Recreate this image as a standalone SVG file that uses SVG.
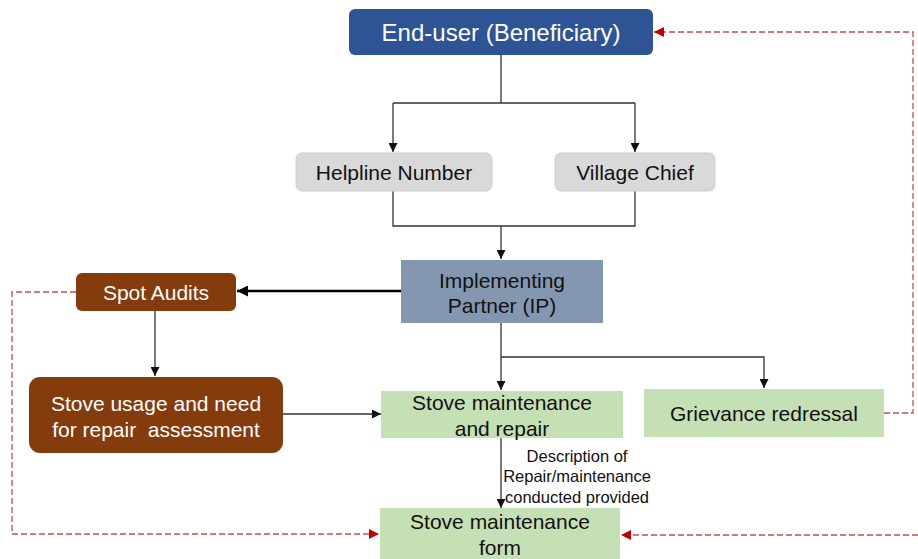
<svg xmlns="http://www.w3.org/2000/svg" width="918" height="559" viewBox="0 0 918 559">
<defs>
<marker id="ah" viewBox="0 0 10 10" refX="10" refY="5" markerWidth="9" markerHeight="9" markerUnits="userSpaceOnUse" orient="auto"><path d="M0,0 L10,5 L0,10 z" fill="#111"/></marker>
<marker id="ahb" viewBox="0 0 10 10" refX="10" refY="5" markerWidth="11" markerHeight="11" markerUnits="userSpaceOnUse" orient="auto"><path d="M0,0 L10,5 L0,10 z" fill="#000"/></marker>
<marker id="ahr" viewBox="0 0 10 10" refX="10" refY="5" markerWidth="10" markerHeight="10" markerUnits="userSpaceOnUse" orient="auto"><path d="M0,0 L10,5 L0,10 z" fill="#C00000"/></marker>
</defs>
<style>
text{font-family:"Liberation Sans",Arial,sans-serif;text-anchor:middle}
.w{fill:#fff}
.k{fill:#111}
.c{fill:none;stroke:#333;stroke-width:1.3}
.d{fill:none;stroke:#C0504D;stroke-width:1.3;stroke-dasharray:6,3}
</style>
<rect width="918" height="559" fill="#fff"/>
<g id="connectors">
<path class="c" d="M501,55 V103 M393,103 H635"/>
<path class="c" d="M393,103 V152" marker-end="url(#ah)"/>
<path class="c" d="M635,103 V152" marker-end="url(#ah)"/>
<path class="c" d="M393,191 V226 H635 V191"/>
<path class="c" d="M501,226 V259" marker-end="url(#ah)"/>
<path fill="none" stroke="#000" stroke-width="2.5" d="M401,291 H237" marker-end="url(#ahb)"/>
<path class="c" stroke="#555" d="M155,311 V376" marker-end="url(#ah)"/>
<path class="c" d="M283,414 H381" marker-end="url(#ah)"/>
<path class="c" d="M501,323 V390" marker-end="url(#ah)"/>
<path class="c" d="M501,357 H764 V388" marker-end="url(#ah)"/>
<path class="c" stroke="#555" d="M501,438 V508" marker-end="url(#ah)"/>
<path class="d" d="M76,292 H12 V534 H379" marker-end="url(#ahr)"/>
<path class="d" d="M884,413 H913 V32 H654" marker-end="url(#ahr)"/>
<path class="d" d="M918,535 H621" marker-end="url(#ahr)"/>
<text class="k" font-size="16.5" x="577" y="462">Description of</text>
<text class="k" font-size="16.5" x="577" y="482">Repair/maintenance</text>
<text class="k" font-size="16.5" x="577" y="503">conducted provided</text>
</g>
<g id="end-user">
<rect x="349" y="9" width="304" height="46" rx="6" fill="#2F5496"/>
<text class="w" font-size="24" x="501" y="41">End-user (Beneficiary)</text>
</g>
<g id="helpline">
<rect x="296" y="153" width="196" height="38" rx="6" fill="#D9D9D9" stroke="#CFCFCF"/>
<text class="k" font-size="21" x="394" y="180">Helpline Number</text>
</g>
<g id="village-chief">
<rect x="555" y="153" width="160" height="38" rx="6" fill="#D9D9D9" stroke="#CFCFCF"/>
<text class="k" font-size="21" x="635" y="180">Village Chief</text>
</g>
<g id="ip">
<rect x="401" y="260" width="202" height="63" fill="#8497B0"/>
<text class="k" font-size="21" x="502" y="288">Implementing</text>
<text class="k" font-size="21" x="502" y="313">Partner (IP)</text>
</g>
<g id="spot-audits">
<rect x="76" y="273" width="160" height="38" rx="6" fill="#843C0C"/>
<text class="w" font-size="21" x="156" y="300">Spot Audits</text>
</g>
<g id="stove-usage">
<rect x="29" y="377" width="254" height="76" rx="11" fill="#843C0C"/>
<text class="w" font-size="21" x="156" y="411">Stove usage and need</text>
<text class="w" font-size="21" x="156" y="437" xml:space="preserve">for repair  assessment</text>
</g>
<g id="stove-maintenance">
<rect x="381" y="391" width="242" height="47" fill="#C5E0B4"/>
<text class="k" font-size="21" x="502" y="410">Stove maintenance</text>
<text class="k" font-size="21" x="502" y="436">and repair</text>
</g>
<g id="grievance">
<rect x="644" y="389" width="240" height="48" fill="#C5E0B4"/>
<text class="k" font-size="21" x="764" y="421">Grievance redressal</text>
</g>
<g id="form">
<rect x="380" y="508" width="240" height="55" fill="#C5E0B4"/>
<text class="k" font-size="21" x="500" y="529">Stove maintenance</text>
<text class="k" font-size="21" x="500" y="555">form</text>
</g>
</svg>
